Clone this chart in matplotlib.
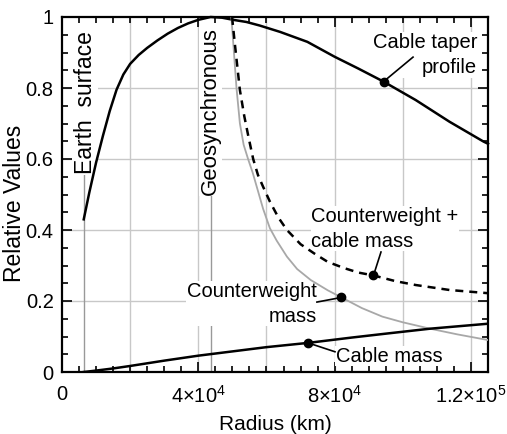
import numpy as np
import matplotlib
matplotlib.use("Agg")
import matplotlib.pyplot as plt
from matplotlib.ticker import FixedLocator, MultipleLocator

plt.rcParams['font.family'] = ['Liberation Sans', 'DejaVu Sans']
plt.rcParams['mathtext.fontset'] = 'custom'
plt.rcParams['mathtext.rm'] = 'Liberation Sans'
plt.rcParams['mathtext.it'] = 'Liberation Sans:italic'

# radius (km) and relative values
EARTH_R = 6378
GEO_R = 43600

taper_r = [6378, 8000, 10000, 12000, 14000, 16000, 18000, 20000, 22500, 25000, 28000, 31000, 34000,
           37000, 40000, 43600, 47000, 50250, 54100, 58000, 64000, 72000, 80000, 86900, 94350,
           103800, 113700, 123700, 125000]
taper_v = [0.43, 0.505, 0.59, 0.665, 0.735, 0.795, 0.838, 0.868, 0.893, 0.913, 0.934, 0.953, 0.969,
           0.982, 0.992, 1.0, 0.998, 0.992, 0.986, 0.976, 0.958, 0.930, 0.888, 0.855, 0.818,
           0.766, 0.705, 0.649, 0.643]

cw_r = [49700, 50300, 51200, 52200, 53300, 54600, 56000, 57200, 59000, 61000, 63000, 66000,
        69000, 73000, 78000, 82000, 88000, 94000, 100000, 108000, 116000, 125000]
cw_v = [1.0, 0.92, 0.80, 0.70, 0.64, 0.60, 0.56, 0.52, 0.46, 0.405, 0.37, 0.325,
        0.29, 0.259, 0.23, 0.21, 0.18, 0.156, 0.14, 0.122, 0.106, 0.09]

total_r = [49900, 50700, 52200, 53500, 54700, 56100, 57500, 59000, 61000, 63500, 66000, 70000,
           74000, 78000, 83000, 87000, 91400, 97800, 103800, 113700, 125000]
total_v = [1.0, 0.926, 0.794, 0.72, 0.663, 0.60, 0.555, 0.522, 0.48, 0.435, 0.40, 0.36,
           0.334, 0.31, 0.292, 0.28, 0.272, 0.256, 0.245, 0.231, 0.222]

cable_r = [6378, 10000, 15000, 20000, 30000, 40000, 50000, 60000, 72200, 85000, 95000, 108000, 125000]
cable_v = [0.0, 0.004, 0.010, 0.017, 0.032, 0.046, 0.058, 0.070, 0.082, 0.097, 0.108, 0.122, 0.136]

# where the label dots sit on each curve
dot_taper_r = 94350
dot_total_r = 91400
dot_cw_r = 82000
dot_cable_r = 72200

x_ticks = [0, 40000, 80000, 120000]
x_tick_labels = ['0', r'$4{\times}10^{4}$', r'$8{\times}10^{4}$', r'$1.2{\times}10^{5}$']
y_ticks = [0, 0.2, 0.4, 0.6, 0.8, 1.0]
y_tick_labels = ['0', '0.2', '0.4', '0.6', '0.8', '1']

GRID = '#c8c8c8'
FS = 14.5

fig = plt.figure(figsize=(5.07, 4.34), dpi=100)
ax = fig.add_axes([62 / 507, 62 / 434, 426 / 507, 355 / 434])
ax.set_xlim(0, 125000)
ax.set_ylim(0, 1)

# grid
for gx in np.arange(20000, 121000, 20000):
	ax.axvline(gx, color=GRID, lw=1.0, zorder=0)
for gy in [0.2, 0.4, 0.6, 0.8]:
	ax.axhline(gy, color=GRID, lw=1.0, zorder=0)

# reference radii
ax.plot([EARTH_R, EARTH_R], [0, 0.58], color='#999999', lw=1.0, zorder=1)
ax.plot([GEO_R, GEO_R], [0, 0.52], color='#999999', lw=1.0, zorder=1)
ax.text(EARTH_R + 400, 0.76, 'Earth  surface', rotation=90, ha='center', va='center', fontsize=16.5,
		bbox=dict(facecolor='white', edgecolor='none', pad=1), zorder=2)
ax.text(GEO_R, 0.735, 'Geosynchronous', rotation=90, ha='center', va='center', fontsize=16,
		bbox=dict(facecolor='white', edgecolor='none', pad=1), zorder=2)

# curves
ax.plot(taper_r, taper_v, color='black', lw=1.8, zorder=3, clip_on=False)
ax.plot(cw_r, cw_v, color='#a8a8a8', lw=1.3, zorder=3)
ax.plot(total_r, total_v, color='black', lw=1.8, dashes=(3.2, 2.4), zorder=3)
ax.plot(cable_r, cable_v, color='black', lw=1.8, zorder=3)

# labels with leader lines (ty is the baseline of the last text line)
def label(text, dot_r, curve_r, curve_v, tx, ty, lx, ly, ha):
	dy = np.interp(dot_r, curve_r, curve_v)
	ax.plot([dot_r, lx], [dy, ly], color='black', lw=1.2, zorder=4)
	ax.plot(dot_r, dy, 'o', color='black', ms=6, zorder=5)
	ax.text(tx, ty, text, ha=ha, va='baseline', multialignment=ha, fontsize=FS, linespacing=1.4,
			bbox=dict(facecolor='white', edgecolor='none', pad=0.5), zorder=2.5)

label('Cable taper\nprofile', dot_taper_r, taper_r, taper_v, 121800, 0.842, 103000, 0.887, 'right')
label('Counterweight +\ncable mass', dot_total_r, total_r, total_v, 73100, 0.353, 93600, 0.338, 'left')
label('Counterweight\nmass', dot_cw_r, cw_r, cw_v, 74800, 0.142, 74800, 0.197, 'right')
label('Cable mass', dot_cable_r, cable_r, cable_v, 80400, 0.029, 80100, 0.057, 'left')

# axes styling
ax.xaxis.set_major_locator(FixedLocator(x_ticks))
ax.set_xticklabels(x_tick_labels)
ax.xaxis.set_minor_locator(MultipleLocator(5000))
ax.yaxis.set_major_locator(FixedLocator(y_ticks))
ax.set_yticklabels(y_tick_labels)
ax.yaxis.set_minor_locator(MultipleLocator(0.05))
ax.tick_params(which='both', direction='in', top=True, right=True, labelsize=FS, width=1.2)
ax.tick_params(which='major', length=7)
ax.tick_params(axis='x', which='major', pad=9)
ax.tick_params(axis='y', which='major', pad=6)
ax.tick_params(which='minor', length=4)
for s in ax.spines.values():
	s.set_linewidth(1.6)

ax.set_xlabel('Radius (km)', fontsize=15, labelpad=6)
ax.set_ylabel('Relative Values', fontsize=16.5)
ax.yaxis.set_label_coords(-0.085, 0.476)

fig.savefig('out.png', dpi=100)
